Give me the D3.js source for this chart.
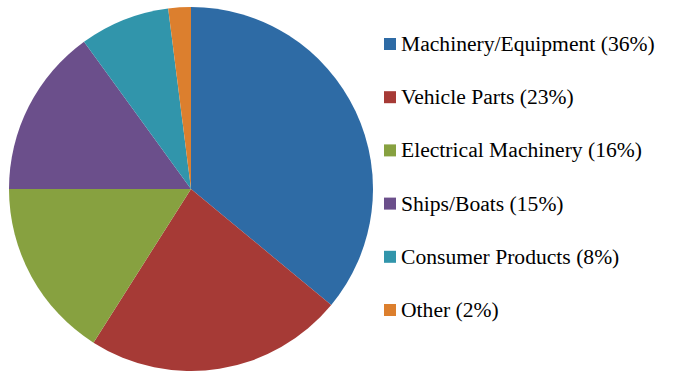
<!DOCTYPE html>
<html>
<head>
<meta charset="utf-8">
<script src="https://cdn.jsdelivr.net/npm/d3@7"></script>
<style>
  html, body { margin: 0; padding: 0; background: #fff; }
  svg { display: block; }
</style>
</head>
<body>
<svg id="chart" width="684" height="371"></svg>
<script>
// Export categories and their shares (percent)
const categories = ["Machinery/Equipment", "Vehicle Parts", "Electrical Machinery", "Ships/Boats", "Consumer Products", "Other"];
const shares = [36, 23, 16, 15, 8, 2];
const colors = ["#2e6ba5", "#a63a36", "#87a140", "#6b4f8b", "#3195ab", "#dc7f2e"];

const svg = d3.select("#chart");
const cx = 191, cy = 189, radius = 182;

const data = categories.map((c, i) => ({ name: c, value: shares[i], color: colors[i] }));

const pie = d3.pie().value(d => d.value).sort(null);
const arc = d3.arc().innerRadius(0).outerRadius(radius);

svg.append("g")
  .attr("transform", `translate(${cx},${cy})`)
  .selectAll("path")
  .data(pie(data))
  .join("path")
  .attr("d", arc)
  .attr("fill", d => d.data.color);

// Legend on the right
const legendY = d3.scalePoint().domain(categories).range([44, 310]);
const legend = svg.append("g");
const rows = legend.selectAll("g")
  .data(data)
  .join("g")
  .attr("transform", d => `translate(384,${legendY(d.name)})`);

rows.append("rect")
  .attr("x", 0).attr("y", -6)
  .attr("width", 12).attr("height", 12)
  .attr("fill", d => d.color);

rows.append("text")
  .attr("x", 17).attr("y", 7)
  .attr("font-family", "'Liberation Serif', 'Times New Roman', serif")
  .attr("font-size", 21.6)
  .attr("fill", "#000")
  .text(d => `${d.name} (${d.value}%)`);
</script>
</body>
</html>
